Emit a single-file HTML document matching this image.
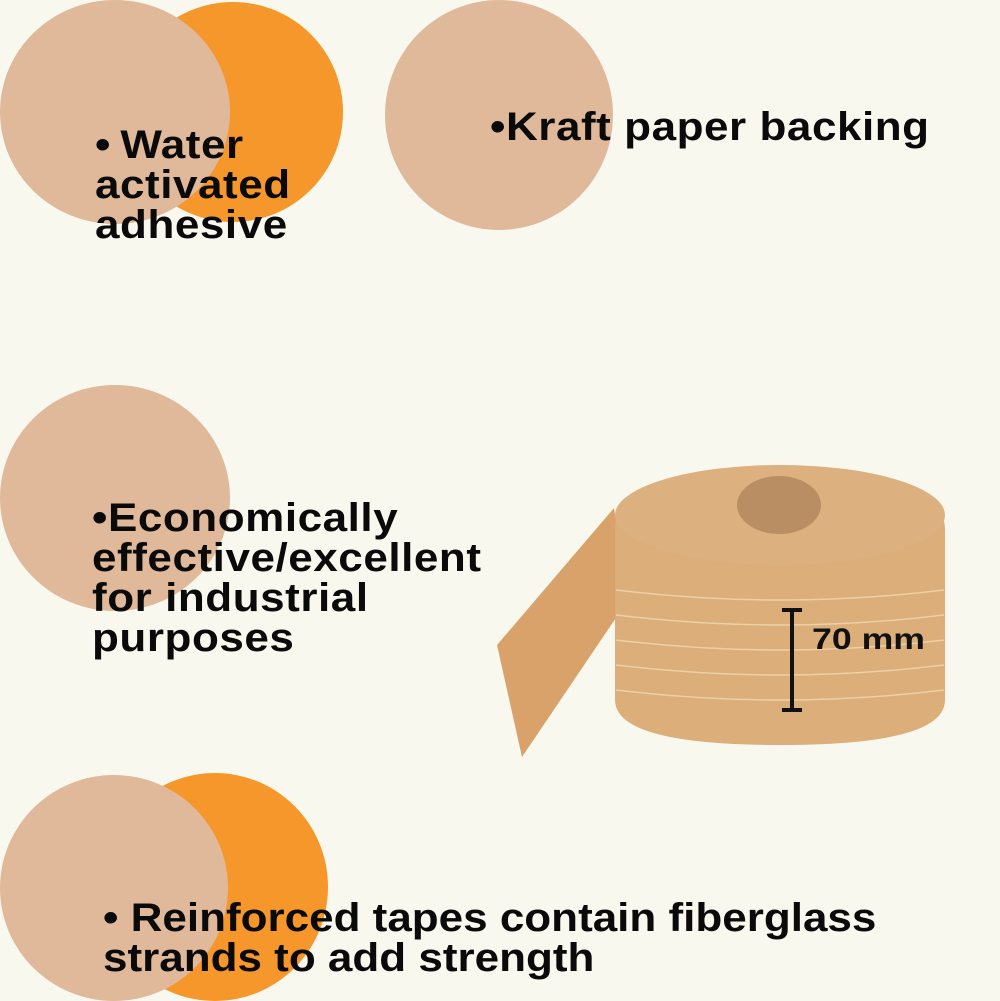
<!DOCTYPE html>
<html><head><style>
body{margin:0;width:1000px;height:1000px;background:#f9f8ef;position:relative;overflow:hidden;font-family:"Liberation Sans",sans-serif;}
.c{position:absolute;border-radius:50%;}
.t{position:absolute;font-weight:bold;font-size:40px;line-height:40px;color:#0a0a0a;letter-spacing:0.5px;white-space:nowrap;transform:scaleX(1.1);transform-origin:0 0;}
</style></head><body>
<div class="c" style="left:123px;top:2px;width:220px;height:220px;background:#f5972a"></div>
<div class="c" style="left:0;top:0;width:230px;height:224px;background:#dfb99a"></div>
<div class="c" style="left:385px;top:0;width:228px;height:230px;background:#dfb99a"></div>
<div class="c" style="left:0;top:385px;width:230px;height:226px;background:#dfb99a"></div>
<div class="c" style="left:102px;top:773px;width:226px;height:228px;background:#f5972a"></div>
<div class="c" style="left:0;top:775px;width:228px;height:226px;background:#dfb99a"></div>

<div class="t" style="left:95px;top:125px">•&thinsp;Water<br>activated<br>adhesive</div>
<div class="t" style="left:490px;top:107px">•Kraft paper backing</div>
<div class="t" style="left:92px;top:498px">•Economically<br>effective/excellent<br>for industrial<br>purposes</div>
<div class="t" style="left:103px;top:898px;letter-spacing:0px">• Reinforced tapes contain fiberglass<br>strands to add strength</div>

<svg style="position:absolute;left:0;top:0" width="1000" height="1000">
<polygon points="614,508 628,600 522,757 497,645" fill="#d9a26b"/>
<path d="M615,530 Q615,470 780,466 Q945,470 945,530 L945,700 Q945,745 780,745 Q615,745 615,700 Z" fill="#dcae7a"/>
<ellipse cx="780" cy="515" rx="165" ry="50" fill="#ddb17f"/>
<ellipse cx="779" cy="505" rx="42" ry="29" fill="#b98e63"/>
<g stroke="#ecd0a8" stroke-width="1.5" fill="none">
<path d="M616,590 Q780,610 944,590"/><path d="M616,615 Q780,635 944,615"/><path d="M616,640 Q780,660 944,640"/><path d="M616,665 Q780,685 944,665"/><path d="M616,690 Q780,710 944,690"/>
</g>
<g stroke="#111" stroke-width="4">
<line x1="792" y1="610" x2="792" y2="710"/><line x1="782" y1="610" x2="802" y2="610"/><line x1="782" y1="710" x2="802" y2="710"/>
</g>
<text x="812" y="649" font-family="Liberation Sans" font-weight="bold" font-size="30" fill="#111" textLength="113" lengthAdjust="spacingAndGlyphs">70 mm</text>
</svg>
</body></html>
